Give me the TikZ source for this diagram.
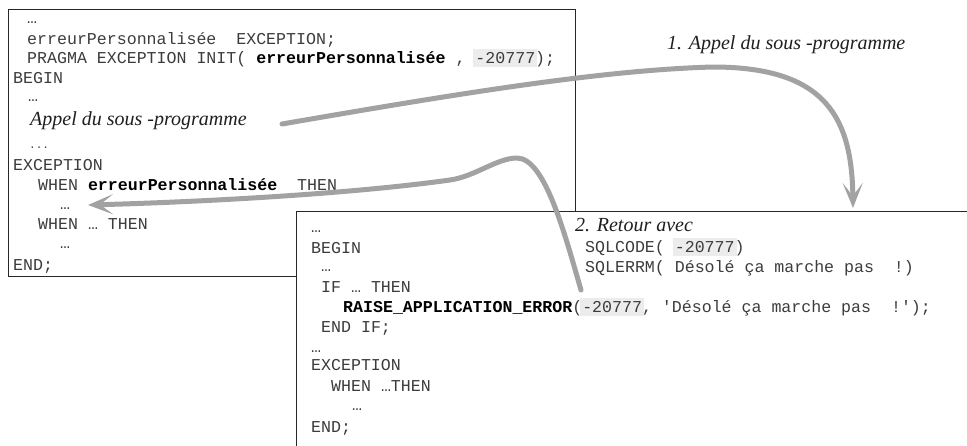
\documentclass[tikz,border=0pt]{standalone}
\usepackage{fontspec}
\setmainfont{Liberation Serif}
\newfontfamily\codefont{Liberation Mono}
\usetikzlibrary{arrows.meta}
\definecolor{hlgray}{HTML}{ECECEC}
\definecolor{arrowgray}{HTML}{A2A2A2}
\definecolor{codegray}{HTML}{3C3C3C}
\newcommand\hlnum[1]{\setbox0\hbox{#1}\rlap{\kern-2pt\textcolor{hlgray}{\rule[-3.5pt]{\dimexpr\wd0+4pt\relax}{17.5pt}}}#1}
\newcommand\kw[1]{\textcolor{black}{\textbf{#1}}}
\tikzset{
  codeline/.style={font=\codefont\fontsize{16.6}{20}\selectfont, text=codegray, inner sep=0pt, anchor=base west},
  smalldots/.style={font=\codefont\fontsize{11}{13}\selectfont, text=codegray, inner sep=0pt, anchor=base west},
  lbl/.style={font=\itshape\fontsize{20}{24}\selectfont, text=black!88, inner sep=0pt, anchor=base west},
  boxframe/.style={draw=black!85, line width=1.3pt, fill=white, inner sep=0pt, anchor=north west},
  flow/.style={draw=arrowgray, line width=5pt, line cap=round, line join=round,
    -{Stealth[length=25pt,width=20pt,inset=13pt]}}
}
\begin{document}
\begin{tikzpicture}[x=1pt,y=-1pt]
\useasboundingbox (0,0) rectangle (967,445);
\clip (0,0) rectangle (967,445);
\fill[white] (0,0) rectangle (967,445);

% box 1
\node[boxframe, minimum width=567pt, minimum height=267pt] (box1) at (8,9) {};
\node[codeline] (l1a) at (27,23) {…};
\node[codeline] (l1b) at (27,44) {erreurPersonnalisée\ \ EXCEPTION;};
\node[codeline] (l1c) at (27,63) {PRAGMA EXCEPTION INIT( \kw{erreurPersonnalisée} , \hlnum{-20777});};
\node[codeline] (l1d) at (13,83) {BEGIN};
\node[codeline] (l1e) at (28,101) {…};
\node[lbl] (appel) at (30,125) {Appel du sous -programme};
\node[smalldots] (l1g) at (29,148) {...};
\node[codeline] (l1h) at (13,170) {EXCEPTION};
\node[codeline] (l1i) at (38,190) {WHEN \kw{erreurPersonnalisée}\ \ THEN};
\node[codeline] (l1j) at (60,209) {…};
\node[codeline] (l1k) at (38,229) {WHEN … THEN};
\node[codeline] (l1l) at (60,248) {…};
\node[codeline] (l1m) at (13,270) {END;};

% box 2
\node[boxframe, minimum width=720pt, minimum height=260pt] (box2) at (296,211) {};
\node[codeline] (l2a) at (311,232) {…};
\node[codeline] (l2b) at (311,253) {BEGIN};
\node[codeline] (l2c) at (321,271) {…};
\node[codeline] (l2d) at (321,292) {IF … THEN};
\node[codeline] (l2e) at (343,312) {\kw{RAISE\_APPLICATION\_ERROR}(\hlnum{-20777}, 'Désolé ça marche pas\ \ !');};
\node[codeline] (l2f) at (321,332) {END IF;};
\node[codeline] (l2g) at (311,352) {…};
\node[codeline] (l2h) at (311,370) {EXCEPTION};
\node[codeline] (l2i) at (331,391) {WHEN …THEN};
\node[codeline] (l2j) at (352,410) {…};
\node[codeline] (l2k) at (311,432) {END;};

\node[lbl] (retour) at (575,231) {2. Retour avec};
\node[codeline] (sqlcode) at (585,252) {SQLCODE( \hlnum{-20777})};
\node[codeline] (sqlerrm) at (585,272) {SQLERRM( Désolé ça marche pas\ \ !)};

\node[lbl] (appel1) at (667,49) {1. Appel du sous -programme};

% connectors
\coordinate (a1s) at (282,124);
\coordinate (a1p) at (713,67);
\coordinate (a1e) at (853,208);
\draw[flow] (a1s) .. controls (450,95) and (600,70) .. (a1p)
  .. controls (828,67) and (852,120) .. (a1e);

\coordinate (a2s) at (581,290);
\coordinate (a2p) at (517,158);
\coordinate (a2m) at (450,180);
\coordinate (a2e) at (88,205);
\draw[flow] (a2s) .. controls (565,235) and (545,158) .. (a2p)
  .. controls (497,158) and (475,176.5) .. (a2m)
  .. controls (350,194) and (200,202) .. (a2e);
\end{tikzpicture}
\end{document}
